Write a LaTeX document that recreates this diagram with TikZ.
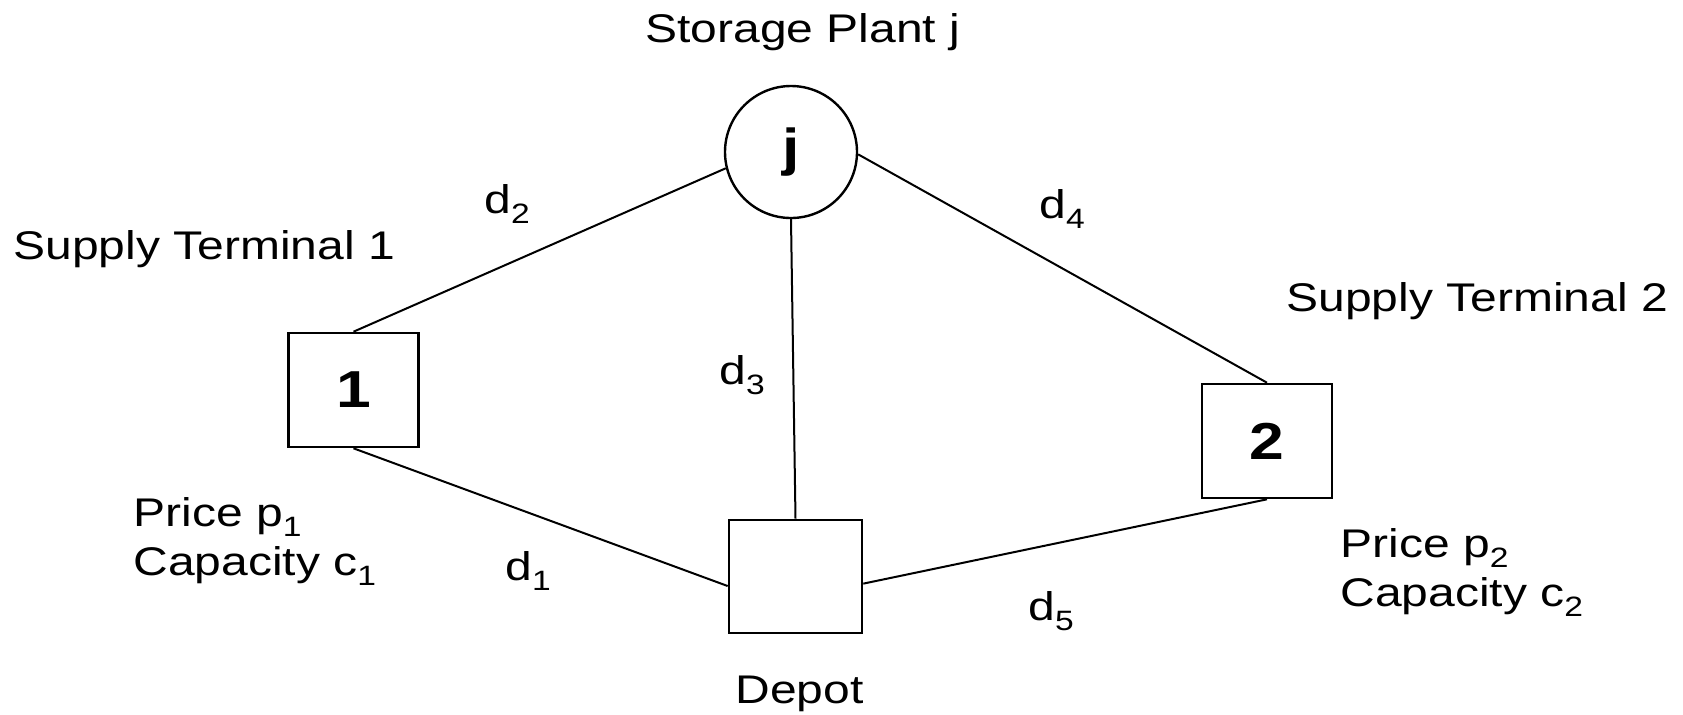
\documentclass[tikz,border=0pt]{standalone}
\usepackage{fontspec}
\setmainfont{Liberation Sans}[FakeStretch=1.2]
\usepackage{tikz}
\usetikzlibrary{shapes,positioning}
\newcommand\lowsub[1]{\raisebox{-5pt}{\fontsize{14}{14}\selectfont #1}}
\tikzset{
  site/.style={draw=black,line width=1.3pt,rectangle,inner sep=0pt,
    minimum width=65pt,minimum height=57pt,font=\fontsize{26}{30}\selectfont\bfseries},
  plantnode/.style={draw=black,line width=1.2pt,circle,inner sep=0pt,
    minimum size=66pt,font=\fontsize{26}{30}\selectfont\bfseries},
  lbl/.style={inner sep=0pt,anchor=base west,font=\fontsize{20}{24.5}\selectfont},
  link/.style={line width=1pt},
}

\begin{document}
\begin{tikzpicture}[x=0.5pt,y=-0.5pt]
  \useasboundingbox (0,0) rectangle (1683,714);
  \fill[white] (0,0) rectangle (1683,714);

  % sites
  \node[plantnode] (plant) at (791,152) {j};
  \node[site] (term1) at (353.5,390) {1};
  \node[site] (term2) at (1267,441) {2};
  \node[site,minimum width=66.5pt,minimum height=56.5pt] (depot) at (795.5,576.5) {};

  % links
  \draw[link] (term1.north) -- (plant.194);
  \draw[link] (plant.358) -- (term2.north);
  \draw[link] (plant.south) -- (depot.north);
  \draw[link] (term1.south) -- (depot.188);
  \draw[link] (depot.354) -- (term2.south);

  % labels
  \node[lbl] (plantlabel) at (645,42) {Storage Plant j};
  \node[lbl] (term1label) at (13,259) {Supply Terminal 1};
  \node[lbl] (term2label) at (1286,311) {Supply Terminal 2};
  \node[lbl] (depotlabel) at (735,703) {Depot};
  \node[lbl,align=left,anchor=north west] (term1data) at (133,497)
    {Price p\lowsub{1}\\Capacity c\lowsub{1}};
  \node[lbl,align=left,anchor=north west] (term2data) at (1340,528)
    {Price p\lowsub{2}\\Capacity c\lowsub{2}};
  \node[lbl] (dist1) at (505,580) {d\lowsub{1}};
  \node[lbl] (dist2) at (484,213) {d\lowsub{2}};
  \node[lbl] (dist3) at (719,384) {d\lowsub{3}};
  \node[lbl] (dist4) at (1039,218) {d\lowsub{4}};
  \node[lbl] (dist5) at (1028,620) {d\lowsub{5}};
\end{tikzpicture}
\end{document}
